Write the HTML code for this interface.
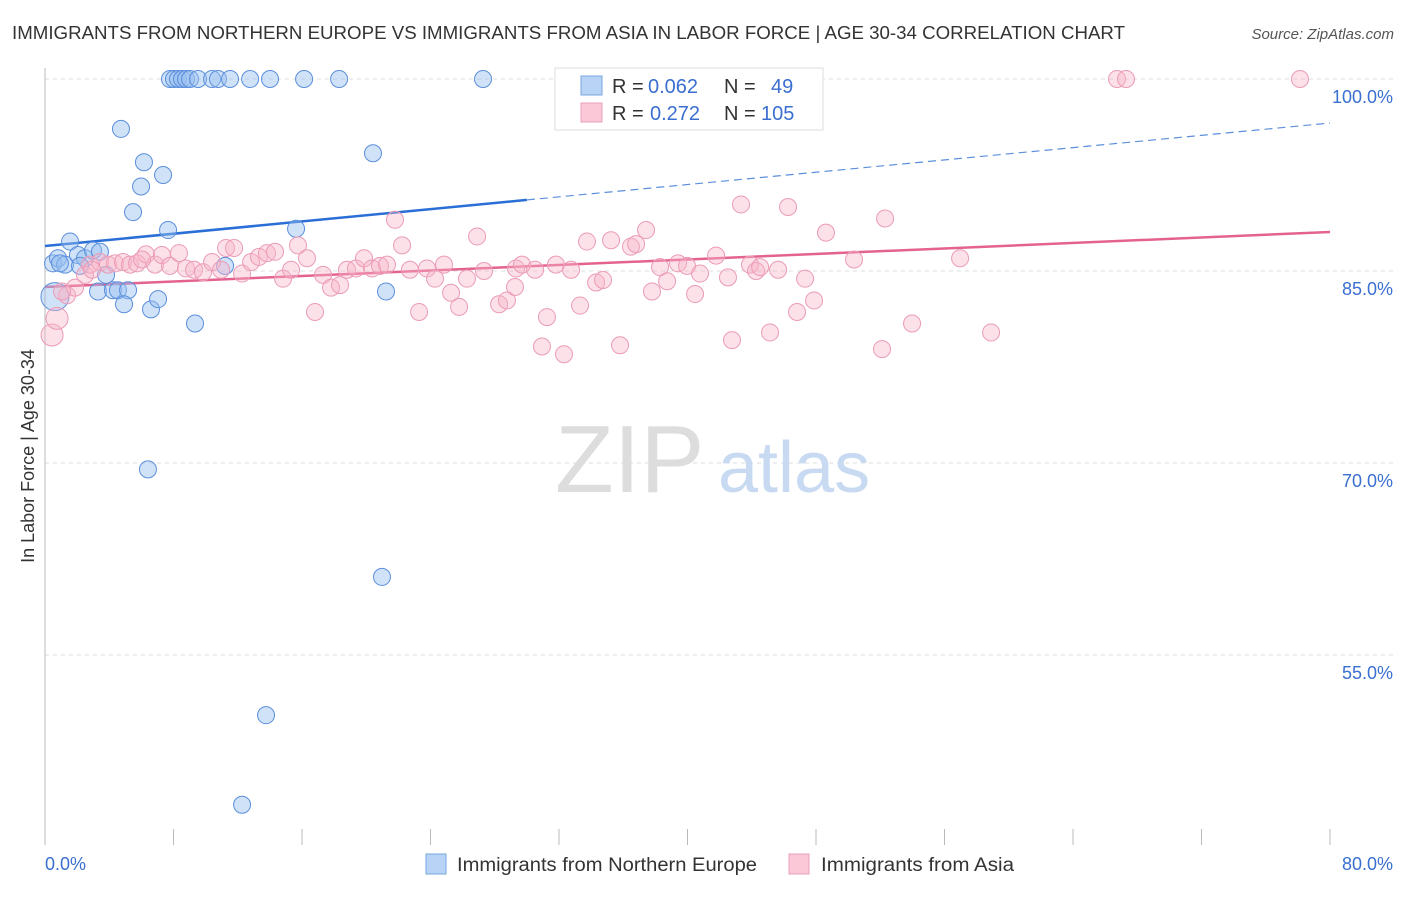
<!DOCTYPE html>
<html><head><meta charset="utf-8"><style>
body{margin:0;background:#fff;font-family:"Liberation Sans",sans-serif}
svg text{font-family:"Liberation Sans",sans-serif}
</style></head><body>
<svg id="chart" width="1406" height="892" viewBox="0 0 1406 892">
<text x="12" y="39" font-size="18" fill="#333" textLength="1113" lengthAdjust="spacingAndGlyphs">IMMIGRANTS FROM NORTHERN EUROPE VS IMMIGRANTS FROM ASIA IN LABOR FORCE | AGE 30-34 CORRELATION CHART</text>
<text x="1394" y="39" font-size="15" fill="#555" font-style="italic" text-anchor="end">Source: ZipAtlas.com</text>
<text transform="translate(34,456) rotate(-90)" font-size="18" fill="#333" text-anchor="middle">In Labor Force | Age 30-34</text>
<g id="grid"></g><g id="ticks"></g>
<text x="555" y="492" font-size="96" fill="#ddd" font-family="Liberation Serif">ZIP</text>
<text x="718" y="492" font-size="72" fill="#c8daf2">atlas</text>
<g id="lines"></g><g id="pts"></g>
<g>
<rect x="555" y="68" width="268" height="62" fill="#fff" stroke="#ddd"/>
<rect x="581" y="76" width="21" height="19" fill="#b8d3f5" stroke="#7aa7e0"/>
<rect x="581" y="103" width="21" height="19" fill="#fac8d7" stroke="#eda0b9"/>
<text y="93" font-size="20"><tspan x="612" fill="#333">R = </tspan><tspan x="648" fill="#3a6fd0">0.062</tspan><tspan x="724" fill="#333">N = </tspan><tspan x="771" fill="#3a6fd0">49</tspan></text>
<text y="120" font-size="20"><tspan x="612" fill="#333">R = </tspan><tspan x="650" fill="#3a6fd0">0.272</tspan><tspan x="724" fill="#333">N = </tspan><tspan x="761" fill="#3a6fd0">105</tspan></text>
</g>
<text x="45" y="870" font-size="18" fill="#3a6fd0">0.0%</text>
<text x="1393" y="870" font-size="18" fill="#3a6fd0" text-anchor="end">80.0%</text>
<rect x="426" y="854" width="20" height="20" fill="#b8d3f5" stroke="#7aa7e0"/>
<text x="457" y="871" font-size="19" fill="#333" textLength="300" lengthAdjust="spacingAndGlyphs">Immigrants from Northern Europe</text>
<rect x="789" y="854" width="20" height="20" fill="#fac8d7" stroke="#eda0b9"/>
<text x="821" y="871" font-size="19" fill="#333" textLength="193" lengthAdjust="spacingAndGlyphs">Immigrants from Asia</text>
</svg>
<script>
const yTicks=[100,85,70,55];
const yTickLabels=["100.0%","85.0%","70.0%","55.0%"];
const xTicks=[0,8,16,24,32,40,48,56,64,72,80];
const blueX=[7.78,8.03,8.28,8.53,8.78,9.03,9.53,10.4,10.77,11.52,12.77,14.01,16.13,18.31,27.27,4.73,6.16,5.98,7.35,5.48,7.66,15.63,20.42,0.5,0.81,1.25,1.56,2.05,2.49,2.99,3.42,3.8,0.62,3.3,4.23,4.54,5.17,4.92,6.6,7.04,9.34,11.21,21.23,6.41,20.98,13.76,12.27,0.93,2.18];
const blueY=[100,100,100,100,100,100,100,100,100,100,100,100,100,100,100,96.1,93.5,91.6,92.5,89.6,88.2,88.3,94.2,85.6,86.0,85.5,87.3,86.25,86.0,86.6,86.5,84.7,83.0,83.4,83.5,83.5,83.5,82.4,82.0,82.8,80.9,85.4,83.4,69.5,61.1,50.3,43.3,85.6,85.4];
const pinkX=[0.44,0.75,1.37,1.87,2.49,2.8,3.42,3.92,4.36,4.86,5.29,5.73,6.29,6.85,7.28,7.78,8.34,8.78,9.28,9.84,10.4,10.96,11.27,11.77,12.27,12.83,13.32,13.82,14.32,14.82,15.32,15.75,16.31,16.81,17.31,17.81,18.37,18.8,19.36,19.86,20.36,20.86,21.29,21.79,22.23,22.72,23.29,23.78,24.28,24.84,25.28,25.78,26.27,26.9,27.33,28.27,28.76,29.26,29.32,29.7,30.51,30.94,31.25,31.81,32.31,32.75,33.31,33.74,34.31,34.74,35.24,35.8,36.48,36.8,37.42,37.79,38.29,38.73,39.41,39.97,40.47,40.78,41.78,42.52,42.77,43.33,43.89,44.27,44.52,45.14,45.64,46.26,46.82,47.32,47.88,48.62,50.37,52.11,52.3,53.98,56.97,58.9,66.74,67.3,78.13,1.06,2.93,6.04];
const pinkY=[80.0,81.3,83.1,83.7,84.7,85.5,85.7,85.5,85.6,85.7,85.5,85.6,86.3,85.5,86.25,85.4,86.4,85.2,85.1,84.9,85.7,85.1,86.8,86.8,84.8,85.7,86.1,86.4,86.5,84.4,85.1,87.0,86.0,81.8,84.7,83.7,83.9,85.1,85.2,86.0,85.2,85.4,85.5,89.0,87.0,85.1,81.8,85.2,84.4,85.5,83.3,82.2,84.4,87.7,85.0,82.4,82.7,83.75,85.2,85.5,85.1,79.1,81.4,85.5,78.5,85.1,82.3,87.3,84.1,84.3,87.4,79.2,86.9,87.1,88.2,83.4,85.3,84.2,85.6,85.4,83.2,84.8,86.2,84.5,79.6,90.2,85.5,85.0,85.3,80.2,85.1,90.0,81.8,84.4,82.7,88.0,85.9,78.9,89.1,80.9,86.0,80.2,100,100,100,83.4,85.1,85.9];
const blueTrend=[86.95,96.56];
const pinkTrend=[83.75,88.05];
const blueSolidEnd=30;
const NS="http://www.w3.org/2000/svg";
const sx=v=>45+v*1285/80;
const sy=v=>79+(100-v)*12.8;
function mk(tag,attrs,parent){const e=document.createElementNS(NS,tag);for(const k in attrs)e.setAttribute(k,attrs[k]);document.getElementById(parent).appendChild(e);return e;}
yTicks.forEach((t,i)=>{
 const l=mk('line',{x1:45,x2:1393,y1:sy(t),y2:sy(t),stroke:'#ddd','stroke-dasharray':'4 4'},'grid');
 
 
 const tx=mk('text',{x:1393,y:sy(t)+24,'font-size':18,fill:'#3a6fd0','text-anchor':'end'},'grid');
 tx.textContent=yTickLabels[i];
 
 
});
const ax=mk('line',{x1:45,x2:45,y1:68,y2:845,stroke:'#bbb'},'ticks');


xTicks.forEach(t=>{
 const l=mk('line',{x1:sx(t),x2:sx(t),y1:829,y2:845,stroke:'#bbb'},'ticks');
 
 
});
const ty=(tr,x)=>tr[0]+(tr[1]-tr[0])*x/80;
let b1=mk('line',{x1:sx(0),y1:sy(ty(blueTrend,0)),x2:sx(blueSolidEnd),y2:sy(ty(blueTrend,blueSolidEnd)),stroke:'#2a6fd6','stroke-width':2.5},'lines');


let b2=mk('line',{x1:sx(blueSolidEnd),y1:sy(ty(blueTrend,blueSolidEnd)),x2:sx(80),y2:sy(ty(blueTrend,80)),stroke:'#5b8fdc','stroke-width':1.2,'stroke-dasharray':'8 5'},'lines');


let p1=mk('line',{x1:sx(0),y1:sy(ty(pinkTrend,0)),x2:sx(80),y2:sy(ty(pinkTrend,80)),stroke:'#e4628f','stroke-width':2.5},'lines');


blueX.forEach((x,i)=>{
 const r=(x<1&&blueY[i]<84)?14:8.5;
 const c=mk('circle',{cx:sx(x),cy:sy(blueY[i]),r:r,fill:'rgba(150,190,240,0.45)',stroke:'#5b8fdc','stroke-width':1},'pts');
 
 
});
pinkX.forEach((x,i)=>{
 const r=(x<1)?11:8.5;
 const c=mk('circle',{cx:sx(x),cy:sy(pinkY[i]),r:r,fill:'rgba(248,180,200,0.4)',stroke:'#eb9bb7','stroke-width':1},'pts');
 
 
});
</script>
</body></html>
